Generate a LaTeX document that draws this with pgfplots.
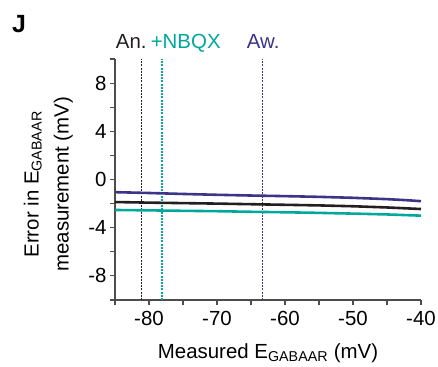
\documentclass[border=0pt]{standalone}
\usepackage{pgfplots}
\pgfplotsset{compat=1.18}
\usepackage{fontspec}
\setmainfont{Liberation Sans}
\definecolor{cblue}{HTML}{3B3487}
\definecolor{cteal}{HTML}{00A89C}
\definecolor{cblack}{HTML}{231F20}
\definecolor{axgray}{HTML}{4D4D4D}
\newcommand{\bigf}{\fontsize{20.5}{30}\selectfont}
\begin{document}
\begin{tikzpicture}
\useasboundingbox (0,0) rectangle (438bp,367bp);
\node[anchor=north west, inner sep=0pt, font=\fontsize{25}{28}\selectfont\bfseries] at (12bp,352bp) {J};
\begin{axis}[
  at={(115bp,67bp)}, anchor=south west,
  scale only axis, width=306bp, height=241bp,
  xmin=-85, xmax=-40, ymin=-10, ymax=10,
  axis x line*=bottom, axis y line*=left,
  axis line style={-, axgray, line width=1.3pt},
  xtick={-80,-70,...,-40}, minor xtick={-85,-75,...,-45},
  ytick={-8,-4,0,4,8}, minor ytick={-10,-6,-2,2,6,10},
  tick align=outside, tick style={axgray, line width=1.1pt},
  major tick length=5bp, minor tick length=5bp,
  /pgf/number format/assume math mode=true,
  ticklabel style={font=\bigf},
  xticklabel style={yshift=-3bp},
  xlabel={Measured E\textsubscript{GABAAR} (mV)},
  xlabel style={font=\bigf, at={(axis description cs:0.5,0)}, anchor=base, yshift=-58bp},
  ylabel={Error in E\textsubscript{GABAAR}\\measurement (mV)},
  ylabel style={font=\bigf, align=center,
    at={(axis description cs:-0.218,0.48)}, anchor=center},
  clip=false,
]
\addplot[cblack, dash pattern=on 2bp off 1.2bp, line width=0.9pt] coordinates {(-81.1,-10) (-81.1,10)};
\addplot[cteal, dash pattern=on 2bp off 1.2bp, line width=1.3pt] coordinates {(-78.1,-10) (-78.1,10)};
\addplot[cblue, dash pattern=on 2bp off 1.2bp, line width=0.9pt] coordinates {(-63.3,-10) (-63.3,10)};
\addplot[cteal, line width=2.6pt] coordinates {
(-85,-2.53) (-80,-2.56) (-75,-2.6) (-70,-2.63) (-65,-2.68) (-60,-2.72) (-55,-2.77) (-50,-2.83) (-45,-2.9) (-40,-3.0)};
\addplot[cblack, line width=2.6pt] coordinates {
(-85,-1.87) (-80,-1.92) (-75,-1.96) (-70,-2.0) (-65,-2.05) (-60,-2.1) (-55,-2.15) (-50,-2.22) (-45,-2.32) (-40,-2.45)};
\addplot[cblue, line width=2.6pt] coordinates {
(-85,-1.05) (-80,-1.12) (-75,-1.2) (-70,-1.27) (-65,-1.33) (-60,-1.38) (-55,-1.44) (-50,-1.52) (-45,-1.63) (-42,-1.72) (-40,-1.8)};
\node[cblack, anchor=base, font=\bigf] at (axis cs:-82.6,10.9) {An.};
\node[cteal, anchor=base, font=\bigf] at (axis cs:-74.6,10.9) {+NBQX};
\node[cblue, anchor=base, font=\bigf] at (axis cs:-63.2,10.9) {Aw.};
\end{axis}
\end{tikzpicture}
\end{document}
